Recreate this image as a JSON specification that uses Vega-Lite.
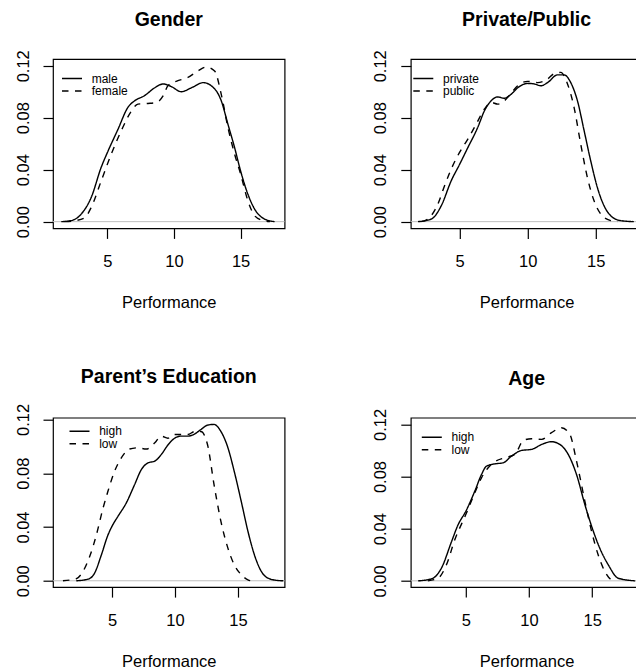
{
  "$schema": "https://vega.github.io/schema/vega-lite/v6.json",
  "background": "white",
  "padding": {"left": 14, "top": 9, "right": 0, "bottom": 0},
  "config": {
    "font": "Liberation Sans",
    "view": {"stroke": "black", "strokeWidth": 1.2},
    "axis": {"grid": false, "domain": false, "tickColor": "black", "tickSize": 10, "tickWidth": 1.2,
      "labelColor": "black", "labelFont": "Liberation Sans", "labelFontSize": 16.5,
      "titleFont": "Liberation Sans", "titleFontSize": 16.5, "titleFontWeight": "normal", "titleColor": "black",
      "labelOverlap": false, "labelFlush": false, "labelBound": false},
    "axisX": {"labelPadding": 28.3, "labelBaseline": "alphabetic", "titleBaseline": "alphabetic", "titleY": 79},
    "axisY": {"labelAngle": 270, "labelAlign": "center", "labelBaseline": "alphabetic", "labelPadding": 15,
      "labelExpr": "round(datum.value*100) % 4 == 0 ? format(datum.value, '.2f') : ''"},
    "title": {"font": "Liberation Sans", "fontSize": 19.5, "fontWeight": "bold", "color": "black", "anchor": "middle", "frame": "group", "baseline": "alphabetic", "offset": 19},
    "legend": {"orient": "none", "title": null, "padding": 0, "symbolType": "M-2,0H2", "symbolSize": 100, "symbolStrokeWidth": 1.4, "symbolStrokeColor": "black", "symbolFillColor": "transparent",
      "labelFont": "Liberation Sans", "labelFontSize": 12, "labelColor": "black", "labelOffset": 13.7, "rowPadding": 0.5},
    "line": {"strokeWidth": 1.4, "color": "black", "interpolate": "monotone", "clip": true},
    "rule": {"color": "#bebebe", "strokeWidth": 1}
  },
  "datasets": {
    "zero": [{"z": 0}],
    "gender": [
      {"x": 1.55, "d": 0, "g": "male"}, {"x": 2.3, "d": 0.0008, "g": "male"}, {"x": 3.05, "d": 0.0059, "g": "male"}, {"x": 3.8, "d": 0.0187, "g": "male"}, {"x": 4.55, "d": 0.042, "g": "male"}, {"x": 5, "d": 0.053, "g": "male"}, {"x": 5.8, "d": 0.071, "g": "male"}, {"x": 6.55, "d": 0.088, "g": "male"}, {"x": 7.05, "d": 0.093, "g": "male"}, {"x": 7.8, "d": 0.097, "g": "male"}, {"x": 8.55, "d": 0.103, "g": "male"}, {"x": 9.2, "d": 0.106, "g": "male"}, {"x": 9.8, "d": 0.104, "g": "male"}, {"x": 10.55, "d": 0.1, "g": "male"}, {"x": 11.3, "d": 0.103, "g": "male"}, {"x": 12.2, "d": 0.107, "g": "male"}, {"x": 12.8, "d": 0.1046, "g": "male"}, {"x": 13.55, "d": 0.093, "g": "male"}, {"x": 14.05, "d": 0.075, "g": "male"}, {"x": 14.55, "d": 0.057, "g": "male"}, {"x": 15, "d": 0.039, "g": "male"}, {"x": 15.55, "d": 0.021, "g": "male"}, {"x": 16.05, "d": 0.0097, "g": "male"}, {"x": 16.8, "d": 0.002, "g": "male"}, {"x": 17.55, "d": 0, "g": "male"},
      {"x": 1.8, "d": 0, "g": "female"}, {"x": 2.6, "d": 0.0008, "g": "female"}, {"x": 3.3, "d": 0.003, "g": "female"}, {"x": 3.8, "d": 0.011, "g": "female"}, {"x": 4.55, "d": 0.0315, "g": "female"}, {"x": 5.3, "d": 0.052, "g": "female"}, {"x": 6.05, "d": 0.07, "g": "female"}, {"x": 6.8, "d": 0.085, "g": "female"}, {"x": 7.3, "d": 0.0905, "g": "female"}, {"x": 8.05, "d": 0.091, "g": "female"}, {"x": 8.7, "d": 0.0918, "g": "female"}, {"x": 9.2, "d": 0.097, "g": "female"}, {"x": 9.55, "d": 0.1046, "g": "female"}, {"x": 10.3, "d": 0.1085, "g": "female"}, {"x": 11.05, "d": 0.111, "g": "female"}, {"x": 11.8, "d": 0.116, "g": "female"}, {"x": 12.43, "d": 0.119, "g": "female"}, {"x": 13.05, "d": 0.116, "g": "female"}, {"x": 13.55, "d": 0.098, "g": "female"}, {"x": 14.05, "d": 0.0725, "g": "female"}, {"x": 14.55, "d": 0.052, "g": "female"}, {"x": 15, "d": 0.0367, "g": "female"}, {"x": 15.55, "d": 0.016, "g": "female"}, {"x": 16.05, "d": 0.0046, "g": "female"}, {"x": 16.55, "d": 0.0013, "g": "female"}, {"x": 17.2, "d": 0, "g": "female"}
    ],
    "school": [
      {"x": 1.95, "d": 0, "g": "private"}, {"x": 2.93, "d": 0.002, "g": "private"}, {"x": 3.66, "d": 0.0123, "g": "private"}, {"x": 4.39, "d": 0.0315, "g": "private"}, {"x": 5, "d": 0.044, "g": "private"}, {"x": 5.61, "d": 0.057, "g": "private"}, {"x": 6.34, "d": 0.0726, "g": "private"}, {"x": 6.83, "d": 0.0854, "g": "private"}, {"x": 7.32, "d": 0.093, "g": "private"}, {"x": 7.8, "d": 0.096, "g": "private"}, {"x": 8.29, "d": 0.095, "g": "private"}, {"x": 8.78, "d": 0.098, "g": "private"}, {"x": 9.39, "d": 0.104, "g": "private"}, {"x": 10, "d": 0.1064, "g": "private"}, {"x": 10.49, "d": 0.106, "g": "private"}, {"x": 10.98, "d": 0.1046, "g": "private"}, {"x": 11.46, "d": 0.107, "g": "private"}, {"x": 12.2, "d": 0.113, "g": "private"}, {"x": 12.68, "d": 0.113, "g": "private"}, {"x": 13.17, "d": 0.107, "g": "private"}, {"x": 13.66, "d": 0.093, "g": "private"}, {"x": 14.15, "d": 0.07, "g": "private"}, {"x": 14.63, "d": 0.047, "g": "private"}, {"x": 15.12, "d": 0.0264, "g": "private"}, {"x": 15.61, "d": 0.0123, "g": "private"}, {"x": 16.1, "d": 0.0046, "g": "private"}, {"x": 16.83, "d": 0.0008, "g": "private"}, {"x": 17.8, "d": 0, "g": "private"},
      {"x": 2.2, "d": 0, "g": "public"}, {"x": 2.68, "d": 0.002, "g": "public"}, {"x": 3.41, "d": 0.0136, "g": "public"}, {"x": 3.9, "d": 0.0277, "g": "public"}, {"x": 4.39, "d": 0.0405, "g": "public"}, {"x": 5, "d": 0.0533, "g": "public"}, {"x": 5.61, "d": 0.0636, "g": "public"}, {"x": 6.22, "d": 0.075, "g": "public"}, {"x": 6.83, "d": 0.0867, "g": "public"}, {"x": 7.32, "d": 0.0918, "g": "public"}, {"x": 7.8, "d": 0.0905, "g": "public"}, {"x": 8.29, "d": 0.093, "g": "public"}, {"x": 8.78, "d": 0.0987, "g": "public"}, {"x": 9.27, "d": 0.1046, "g": "public"}, {"x": 10, "d": 0.108, "g": "public"}, {"x": 10.73, "d": 0.107, "g": "public"}, {"x": 11.46, "d": 0.1097, "g": "public"}, {"x": 11.95, "d": 0.114, "g": "public"}, {"x": 12.44, "d": 0.1149, "g": "public"}, {"x": 12.93, "d": 0.106, "g": "public"}, {"x": 13.41, "d": 0.088, "g": "public"}, {"x": 13.9, "d": 0.0597, "g": "public"}, {"x": 14.39, "d": 0.034, "g": "public"}, {"x": 14.88, "d": 0.016, "g": "public"}, {"x": 15.37, "d": 0.0059, "g": "public"}, {"x": 16.1, "d": 0.0008, "g": "public"}, {"x": 16.6, "d": 0, "g": "public"}
    ],
    "parent": [
      {"x": 2.17, "d": 0, "g": "high"}, {"x": 3.1, "d": 0.0012, "g": "high"}, {"x": 3.62, "d": 0.0057, "g": "high"}, {"x": 4.15, "d": 0.019, "g": "high"}, {"x": 4.68, "d": 0.034, "g": "high"}, {"x": 5, "d": 0.0405, "g": "high"}, {"x": 5.48, "d": 0.048, "g": "high"}, {"x": 6.14, "d": 0.058, "g": "high"}, {"x": 6.8, "d": 0.0716, "g": "high"}, {"x": 7.33, "d": 0.0827, "g": "high"}, {"x": 7.86, "d": 0.0877, "g": "high"}, {"x": 8.39, "d": 0.089, "g": "high"}, {"x": 8.92, "d": 0.094, "g": "high"}, {"x": 9.44, "d": 0.101, "g": "high"}, {"x": 9.97, "d": 0.106, "g": "high"}, {"x": 10.5, "d": 0.1076, "g": "high"}, {"x": 11, "d": 0.1076, "g": "high"}, {"x": 11.53, "d": 0.109, "g": "high"}, {"x": 12.06, "d": 0.1125, "g": "high"}, {"x": 12.59, "d": 0.1158, "g": "high"}, {"x": 13.1, "d": 0.1163, "g": "high"}, {"x": 13.65, "d": 0.111, "g": "high"}, {"x": 14.2, "d": 0.099, "g": "high"}, {"x": 14.7, "d": 0.0815, "g": "high"}, {"x": 15.26, "d": 0.059, "g": "high"}, {"x": 15.79, "d": 0.0368, "g": "high"}, {"x": 16.3, "d": 0.0194, "g": "high"}, {"x": 16.85, "d": 0.007, "g": "high"}, {"x": 17.38, "d": 0.002, "g": "high"}, {"x": 18.17, "d": 0.0002, "g": "high"}, {"x": 18.6, "d": 0, "g": "high"},
      {"x": 1.11, "d": 0, "g": "low"}, {"x": 2.17, "d": 0.0015, "g": "low"}, {"x": 2.7, "d": 0.007, "g": "low"}, {"x": 3.23, "d": 0.018, "g": "low"}, {"x": 3.76, "d": 0.034, "g": "low"}, {"x": 4.29, "d": 0.054, "g": "low"}, {"x": 4.68, "d": 0.0666, "g": "low"}, {"x": 5.21, "d": 0.0815, "g": "low"}, {"x": 5.74, "d": 0.0914, "g": "low"}, {"x": 6.4, "d": 0.098, "g": "low"}, {"x": 7.06, "d": 0.0989, "g": "low"}, {"x": 7.72, "d": 0.098, "g": "low"}, {"x": 8.4, "d": 0.1026, "g": "low"}, {"x": 8.9, "d": 0.1076, "g": "low"}, {"x": 9.44, "d": 0.106, "g": "low"}, {"x": 9.97, "d": 0.1088, "g": "low"}, {"x": 10.5, "d": 0.1088, "g": "low"}, {"x": 11.03, "d": 0.1088, "g": "low"}, {"x": 11.56, "d": 0.111, "g": "low"}, {"x": 12.06, "d": 0.111, "g": "low"}, {"x": 12.59, "d": 0.101, "g": "low"}, {"x": 13.1, "d": 0.0716, "g": "low"}, {"x": 13.65, "d": 0.044, "g": "low"}, {"x": 14.2, "d": 0.0243, "g": "low"}, {"x": 14.7, "d": 0.012, "g": "low"}, {"x": 15.26, "d": 0.0045, "g": "low"}, {"x": 15.79, "d": 0.0007, "g": "low"}, {"x": 16, "d": 0, "g": "low"}
    ],
    "age": [
      {"x": 1.23, "d": 0, "g": "high"}, {"x": 2.28, "d": 0.0015, "g": "high"}, {"x": 3.07, "d": 0.0097, "g": "high"}, {"x": 3.87, "d": 0.03, "g": "high"}, {"x": 4.39, "d": 0.043, "g": "high"}, {"x": 5, "d": 0.0533, "g": "high"}, {"x": 5.71, "d": 0.0687, "g": "high"}, {"x": 6.24, "d": 0.0815, "g": "high"}, {"x": 6.64, "d": 0.088, "g": "high"}, {"x": 7.3, "d": 0.0897, "g": "high"}, {"x": 7.96, "d": 0.0905, "g": "high"}, {"x": 8.61, "d": 0.0956, "g": "high"}, {"x": 9.41, "d": 0.1, "g": "high"}, {"x": 10.2, "d": 0.1008, "g": "high"}, {"x": 11, "d": 0.1046, "g": "high"}, {"x": 11.78, "d": 0.1067, "g": "high"}, {"x": 12.44, "d": 0.1046, "g": "high"}, {"x": 13.1, "d": 0.097, "g": "high"}, {"x": 13.76, "d": 0.0815, "g": "high"}, {"x": 14.42, "d": 0.0585, "g": "high"}, {"x": 15, "d": 0.0405, "g": "high"}, {"x": 15.6, "d": 0.025, "g": "high"}, {"x": 16.27, "d": 0.0123, "g": "high"}, {"x": 17.06, "d": 0.002, "g": "high"}, {"x": 18.4, "d": 0, "g": "high"},
      {"x": 2.0, "d": 0, "g": "low"}, {"x": 2.8, "d": 0.002, "g": "low"}, {"x": 3.47, "d": 0.0123, "g": "low"}, {"x": 4.13, "d": 0.0315, "g": "low"}, {"x": 5, "d": 0.0508, "g": "low"}, {"x": 5.71, "d": 0.0674, "g": "low"}, {"x": 6.24, "d": 0.079, "g": "low"}, {"x": 6.77, "d": 0.0867, "g": "low"}, {"x": 7.3, "d": 0.0913, "g": "low"}, {"x": 8.09, "d": 0.0944, "g": "low"}, {"x": 8.89, "d": 0.097, "g": "low"}, {"x": 9.55, "d": 0.1077, "g": "low"}, {"x": 10.2, "d": 0.109, "g": "low"}, {"x": 11, "d": 0.1085, "g": "low"}, {"x": 11.78, "d": 0.1136, "g": "low"}, {"x": 12.57, "d": 0.1174, "g": "low"}, {"x": 13.23, "d": 0.1123, "g": "low"}, {"x": 13.76, "d": 0.0918, "g": "low"}, {"x": 14.42, "d": 0.061, "g": "low"}, {"x": 14.95, "d": 0.038, "g": "low"}, {"x": 15.47, "d": 0.02, "g": "low"}, {"x": 16, "d": 0.0072, "g": "low"}, {"x": 16.53, "d": 0.0008, "g": "low"}, {"x": 16.9, "d": 0, "g": "low"}
    ]
  },
  "spacing": 358.7,
  "bounds": "flush",
  "resolve": {"scale": {"x": "independent", "y": "independent", "strokeDash": "independent"}, "legend": {"strokeDash": "independent"}},
  "vconcat": [
    {
      "spacing": 125.8,
      "bounds": "flush",
      "resolve": {"scale": {"x": "independent", "y": "independent", "strokeDash": "independent"}, "legend": {"strokeDash": "independent"}},
      "hconcat": [
        {
          "width": 231.6, "height": 169.4,
          "title": {"text": "Gender", "offset": 19},
          "layer": [
            {"data": {"name": "zero"}, "mark": "rule", "encoding": {"y": {"field": "z", "type": "quantitative", "scale": {"domain": [-0.0052, 0.1252], "nice": false, "zero": false}}}},
            {"data": {"name": "gender"}, "mark": "line", "encoding": {
              "x": {"field": "x", "type": "quantitative", "scale": {"domain": [0.93, 18.3], "nice": false, "zero": false}, "axis": {"title": "Performance", "values": [5, 10, 15]}},
              "y": {"field": "d", "type": "quantitative", "scale": {"domain": [-0.0052, 0.1252], "nice": false, "zero": false}, "axis": {"title": null, "values": [0, 0.02, 0.04, 0.06, 0.08, 0.1, 0.12]}},
              "strokeDash": {"field": "g", "type": "nominal", "scale": {"domain": ["male", "female"], "range": [[1, 0], [6.5, 6.5]]}, "legend": {"legendX": 13, "legendY": 13.5}}
            }}
          ]
        },
        {
          "width": 231.6, "height": 169.4,
          "title": {"text": "Private/Public", "offset": 19},
          "layer": [
            {"data": {"name": "zero"}, "mark": "rule", "encoding": {"y": {"field": "z", "type": "quantitative", "scale": {"domain": [-0.0052, 0.1252], "nice": false, "zero": false}}}},
            {"data": {"name": "school"}, "mark": "line", "encoding": {
              "x": {"field": "x", "type": "quantitative", "scale": {"domain": [1.42, 18.43], "nice": false, "zero": false}, "axis": {"title": "Performance", "values": [5, 10, 15]}},
              "y": {"field": "d", "type": "quantitative", "scale": {"domain": [-0.0052, 0.1252], "nice": false, "zero": false}, "axis": {"title": null, "values": [0, 0.02, 0.04, 0.06, 0.08, 0.1, 0.12]}},
              "strokeDash": {"field": "g", "type": "nominal", "scale": {"domain": ["private", "public"], "range": [[1, 0], [6.5, 6.5]]}, "legend": {"legendX": 6.5, "legendY": 13.5}}
            }}
          ]
        }
      ]
    },
    {
      "spacing": 125.8,
      "bounds": "flush",
      "resolve": {"scale": {"x": "independent", "y": "independent", "strokeDash": "independent"}, "legend": {"strokeDash": "independent"}},
      "hconcat": [
        {
          "width": 231.6, "height": 169.4,
          "title": {"text": "Parent’s Education", "offset": 16},
          "layer": [
            {"data": {"name": "zero"}, "mark": "rule", "encoding": {"y": {"field": "z", "type": "quantitative", "scale": {"domain": [-0.0047, 0.1213], "nice": false, "zero": false}}}},
            {"data": {"name": "parent"}, "mark": "line", "encoding": {
              "x": {"field": "x", "type": "quantitative", "scale": {"domain": [0.32, 18.7], "nice": false, "zero": false}, "axis": {"title": "Performance", "values": [5, 10, 15]}},
              "y": {"field": "d", "type": "quantitative", "scale": {"domain": [-0.0047, 0.1213], "nice": false, "zero": false}, "axis": {"title": null, "values": [0, 0.02, 0.04, 0.06, 0.08, 0.1, 0.12]}},
              "strokeDash": {"field": "g", "type": "nominal", "scale": {"domain": ["high", "low"], "range": [[1, 0], [6.5, 6.5]]}, "legend": {"legendX": 20.5, "legendY": 7.5}}
            }}
          ]
        },
        {
          "width": 231.6, "height": 169.4,
          "title": {"text": "Age", "offset": 19},
          "layer": [
            {"data": {"name": "zero"}, "mark": "rule", "encoding": {"y": {"field": "z", "type": "quantitative", "scale": {"domain": [-0.0048, 0.1251], "nice": false, "zero": false}}}},
            {"data": {"name": "age"}, "mark": "line", "encoding": {
              "x": {"field": "x", "type": "quantitative", "scale": {"domain": [0.65, 18.97], "nice": false, "zero": false}, "axis": {"title": "Performance", "values": [5, 10, 15]}},
              "y": {"field": "d", "type": "quantitative", "scale": {"domain": [-0.0048, 0.1251], "nice": false, "zero": false}, "axis": {"title": null, "values": [0, 0.02, 0.04, 0.06, 0.08, 0.1, 0.12]}},
              "strokeDash": {"field": "g", "type": "nominal", "scale": {"domain": ["high", "low"], "range": [[1, 0], [6.5, 6.5]]}, "legend": {"legendX": 15, "legendY": 13.5}}
            }}
          ]
        }
      ]
    }
  ]
}
